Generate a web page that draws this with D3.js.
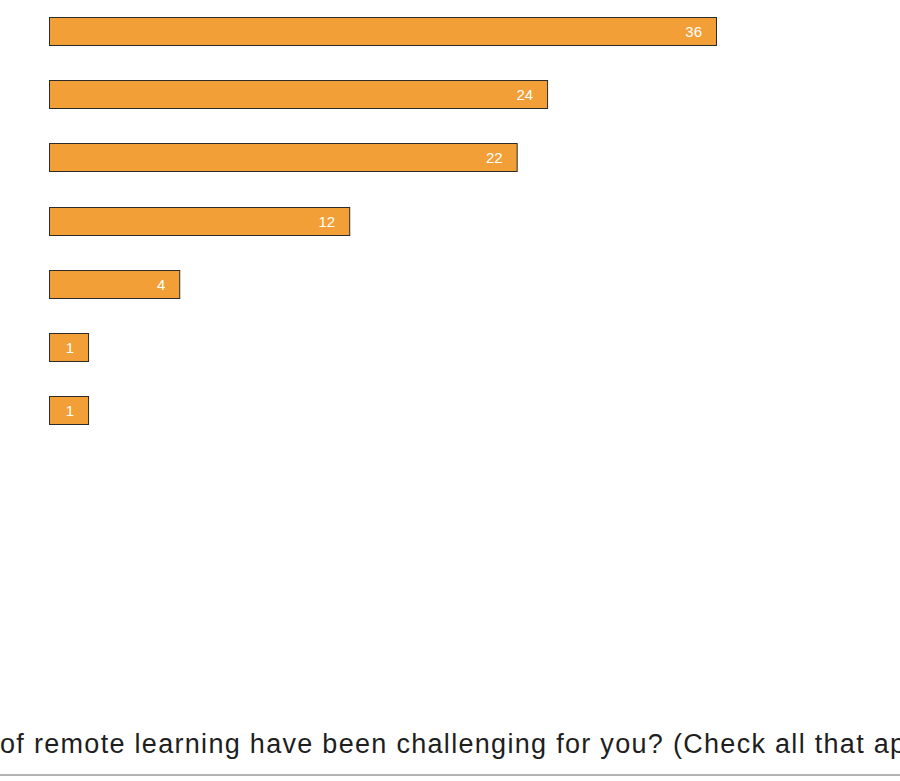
<!DOCTYPE html>
<html>
<head>
<meta charset="utf-8">
<script src="https://cdn.jsdelivr.net/npm/d3@7"></script>
<style>
  html, body { margin: 0; padding: 0; background: #fff; }
  svg { display: block; }
</style>
</head>
<body>
<div id="chart"></div>
<script>
// Responses per option, in the order the bars are stacked
const options = ["A", "B", "C", "D", "E", "F", "G"];
const counts = [36, 24, 22, 12, 4, 1, 1];
const question = "of remote learning have been challenging for you? (Check all that apply)";

const width = 900, height = 781;

const svg = d3.select("#chart").append("svg")
  .attr("width", width)
  .attr("height", height);

// Bars share a common left edge; lengths follow a compressed (power) scale
const barLeft = 49;
const x = d3.scalePow().exponent(0.7)
  .domain([0, d3.max(counts)])
  .range([33.4, 717]);

const y = d3.scaleBand()
  .domain(options)
  .range([17, 424])
  .paddingInner(0.557)
  .paddingOuter(0);

const data = options.map((o, i) => ({ option: o, value: counts[i] }));

const bars = svg.append("g").attr("class", "bars");

bars.selectAll("rect")
  .data(data)
  .join("rect")
  .attr("x", barLeft + 0.5)
  .attr("y", d => Math.round(y(d.option)) + 0.5)
  .attr("width", d => x(d.value) - barLeft - 1)
  .attr("height", Math.round(y.bandwidth()))
  .attr("fill", "#f39f37")
  .attr("stroke", "#2b2b2b")
  .attr("stroke-width", 1);

bars.selectAll("text")
  .data(data)
  .join("text")
  .attr("x", d => x(d.value) - 15)
  .attr("y", d => Math.round(y(d.option)) + y.bandwidth() / 2 + 6)
  .attr("text-anchor", "end")
  .attr("font-family", "'Liberation Sans', Arial, sans-serif")
  .attr("font-size", 15)
  .attr("fill", "#ffffff")
  .text(d => d.value);

// Question caption along the bottom, running past the right edge
svg.append("text")
  .attr("x", 0)
  .attr("y", 753)
  .attr("font-family", "'Liberation Sans', Arial, sans-serif")
  .attr("font-size", 27)
  .attr("letter-spacing", 1.3)
  .attr("fill", "#1e1e1e")
  .text(question);

svg.append("line")
  .attr("x1", 0).attr("x2", width)
  .attr("y1", 775).attr("y2", 775)
  .attr("stroke", "#9a9a9a")
  .attr("stroke-width", 1.5);
</script>
</body>
</html>
